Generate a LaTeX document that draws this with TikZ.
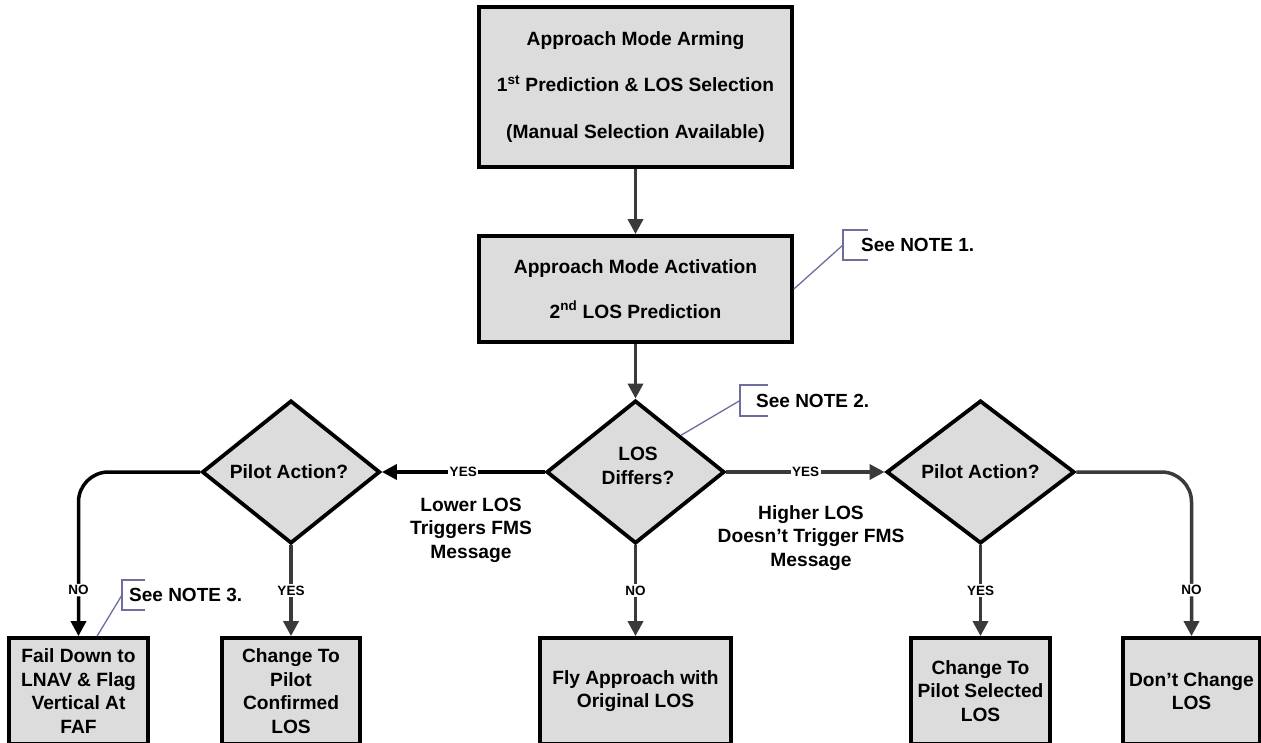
\documentclass[tikz,border=0pt]{standalone}
\usepackage{fontspec}
\setmainfont{Liberation Sans}
\usetikzlibrary{arrows.meta,shapes.geometric,calc}
\definecolor{boxfill}{HTML}{DCDCDC}
\definecolor{arrowgray}{HTML}{3A3A3A}
\definecolor{notecol}{HTML}{6E6E9E}
\begin{document}
\begin{tikzpicture}[x=1pt,y=-1pt,
  box/.style={draw=black, line width=3.8pt, fill=boxfill, rectangle, align=center,
    font=\bfseries\fontsize{19.2}{23.5}\selectfont, inner sep=0pt},
  dec/.style={draw=black, line width=3.8pt, fill=boxfill, diamond, inner sep=0pt},
  lbl/.style={font=\bfseries\fontsize{19.2}{23.5}\selectfont, align=center, inner sep=0pt},
  flow/.style={line width=3.5pt, draw=arrowgray, -{Triangle[length=15pt,width=15pt]}},
  flowk/.style={flow, draw=black},
  yn/.style={fill=white, inner sep=1.5pt, font=\bfseries\fontsize{13.5}{13.5}\selectfont, text=black},
  note/.style={draw=notecol, line width=1.3pt},
  notetext/.style={font=\bfseries\fontsize{19}{22}\selectfont, anchor=west, inner sep=0pt}
]
\useasboundingbox (0,0) rectangle (1261,742);
\clip (0,0) rectangle (1261,742);
\fill[white] (0,0) rectangle (1261,742);

% boxes
\node[box, minimum width=313pt, minimum height=160pt, font=\bfseries\fontsize{19.2}{46.5}\selectfont] (arm) at (635.5,87)
  {Approach Mode Arming\\1\textsuperscript{st} Prediction \& LOS Selection\\(Manual Selection Available)};
\node[box, minimum width=313pt, minimum height=106pt, font=\bfseries\fontsize{19.2}{45}\selectfont] (act) at (635.5,289)
  {Approach Mode Activation\\2\textsuperscript{nd} LOS Prediction};

% diamonds
\node[dec, minimum width=178pt, minimum height=143pt] (cd) at (635.5,472) {};
\node[lbl] (cdt) at (638,466) {LOS\\Differs?};
\node[dec, minimum width=178pt, minimum height=143pt] (ld) at (291,472) {};
\node[lbl] (ldt) at (289,472) {Pilot Action?};
\node[dec, minimum width=188pt, minimum height=143pt] (rd) at (980.5,472) {};
\node[lbl] (rdt) at (980.5,472) {Pilot Action?};

% bottom boxes
\node[box, minimum width=139pt, minimum height=106pt] (fail) at (78.5,691) {Fail Down to\\LNAV \& Flag\\Vertical At\\FAF};
\node[box, minimum width=138pt, minimum height=106pt] (conf) at (291,691) {Change To\\Pilot\\Confirmed\\LOS};
\node[box, minimum width=191pt, minimum height=106pt] (fly) at (635.5,691) {Fly Approach with\\Original LOS};
\node[box, minimum width=139pt, minimum height=106pt] (sel) at (980.5,691) {Change To\\Pilot Selected\\LOS};
\node[box, minimum width=137pt, minimum height=106pt] (dont) at (1191.5,691) {Don’t Change\\LOS};

% side texts
\node[lbl] (lowt) at (471,530) {Lower LOS\\Triggers FMS\\Message};
\node[lbl] (hight) at (811,538) {Higher LOS\\Doesn’t Trigger FMS\\Message};

% connectors
\draw[flow] (arm) -- (act);
\draw[flow] (act) -- (cd);
\draw[flowk] (cd) -- node[yn] {YES} (ld);
\draw[flow] (cd) -- node[yn] {YES} (rd);
\draw[flow] (cd) -- node[yn] {NO} (fly);
\draw[flow] (ld) -- node[yn] {YES} (conf);
\draw[flow] (rd) -- node[yn] {YES} (sel);
\draw[flowk, rounded corners=30pt] (ld.west) -| node[yn, pos=0.86] {NO} (fail.north);
\draw[flow, rounded corners=30pt] (rd.east) -| node[yn, pos=0.86] {NO} (dont.north);

% notes
\coordinate (b1) at (843,245);
\draw[note] (868,230) -- (843,230) -- (843,260) -- (868,260);
\node[notetext] (n1) at (861,245) {See NOTE 1.};
\draw[note] (act.east) -- (b1);

\coordinate (b2) at (740,400.5);
\draw[note] (768,385) -- (740,385) -- (740,416) -- (768,416);
\node[notetext] (n2) at (756,400.5) {See NOTE 2.};
\draw[note] ($(cd.north)!0.5!(cd.east)$) -- (b2);

\coordinate (b3) at (122,595);
\draw[note] (145,580) -- (122,580) -- (122,610) -- (145,610);
\node[notetext] (n3) at (129,595) {See NOTE 3.};
\draw[note] ($(fail.north west)!0.63!(fail.north east)$) -- (b3);
\end{tikzpicture}
\end{document}
